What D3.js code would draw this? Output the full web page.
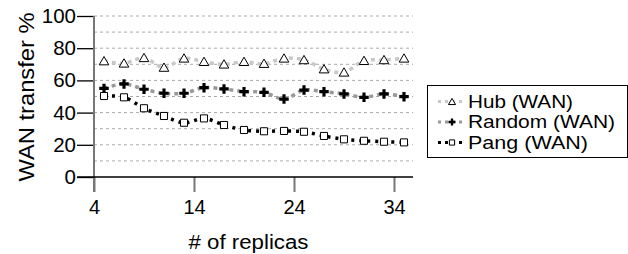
<!DOCTYPE html>
<html><head><meta charset="utf-8">
<script src="https://cdn.jsdelivr.net/npm/d3@7"></script>
<style>body{margin:0;background:#fff}svg{display:block;font-family:"Liberation Sans",Arial,sans-serif}</style>
</head><body><svg id="c" width="628" height="254"></svg>
<script>
const replicas = [5,7,9,11,13,15,17,19,21,23,25,27,29,31,33,35];
const hubWAN    = [72,70.6,74,68,73.7,71.6,70,71.6,70.4,73.7,72.7,67,65,72.2,72.7,73.7];
const randomWAN = [55,57.8,54.5,52,52,55.5,54.7,53,52.6,48.4,54,53,51.6,49.5,51.6,49.9];
const pangWAN   = [50.3,49.5,42.7,37.9,33.7,36.4,32.3,29.2,28.4,28.6,28.1,25.5,23.4,22.5,21.9,21.5];
const seriesNames = ["Hub (WAN)","Random (WAN)","Pang (WAN)"];
const xTicks = [4,14,24,34];
const yTicks = [0,20,40,60,80,100];
const gridVals = [10,20,30,40,50,60,70,80,90,100];

const FONT = "Liberation Sans, Arial, sans-serif";
const svg = d3.select("#c");
const x = d3.scaleLinear().domain([4,35.9]).range([94,413]);
const y = d3.scaleLinear().domain([0,100]).range([177,16]);

// grid
svg.append("g").selectAll("line").data(gridVals).join("line")
  .attr("x1",94).attr("x2",413).attr("y1",d=>y(d)).attr("y2",d=>y(d))
  .attr("stroke","#aaa").attr("stroke-width",1).attr("stroke-dasharray","3,3");

// y axis
const ya = svg.append("g").attr("transform","translate(94,0)")
  .call(d3.axisLeft(y).tickValues(yTicks).tickSize(17).tickPadding(1));
ya.select(".domain").remove();
ya.selectAll(".tick line").attr("stroke","#000").attr("stroke-width",1.3);
ya.selectAll("text").attr("font-size",20.5).attr("fill","#000").attr("font-family",FONT);
svg.append("line").attr("x1",94).attr("x2",94).attr("y1",y(100)).attr("y2",192).attr("stroke","#777").attr("stroke-width",2);

// x axis
const xa = svg.append("g").attr("transform","translate(0,177)")
  .call(d3.axisBottom(x).tickValues(xTicks).tickSize(15).tickPadding(8));
xa.select(".domain").remove();
xa.selectAll(".tick line").attr("stroke","#777").attr("stroke-width",2);
xa.selectAll("text").attr("font-size",20).attr("fill","#000").attr("font-family",FONT);
svg.append("line").attr("x1",77).attr("x2",413).attr("y1",177).attr("y2",177).attr("stroke","#000").attr("stroke-width",1.5);

// labels
svg.append("text").attr("transform","translate(33.5,97) rotate(-90)").attr("text-anchor","middle")
  .attr("font-size",22.5).attr("textLength",169).attr("lengthAdjust","spacingAndGlyphs").text("WAN transfer %");
svg.append("text").attr("x",248.5).attr("y",249).attr("text-anchor","middle").attr("font-size",20)
  .attr("textLength",120).attr("lengthAdjust","spacingAndGlyphs").text("# of replicas");

const series = [
  {name:seriesNames[0], vals:hubWAN, color:"#c8c8c8", dash:"4,4", marker:"tri", w:105},
  {name:seriesNames[1], vals:randomWAN, color:"#999", dash:"4,4", marker:"plus", w:147},
  {name:seriesNames[2], vals:pangWAN, color:"#000", dash:"3,5", marker:"sq", w:120}
];
const line = d3.line().x(d=>x(d[0])).y(d=>y(d[1])).curve(d3.curveCatmullRom.alpha(0.5));

function marker(g, type, cx, cy, s){
  if(type==="tri"){
    g.append("path").attr("d",d3.symbol(d3.symbolTriangle, 40*s)()).attr("transform",`translate(${cx},${cy+1})`)
      .attr("fill","#fff").attr("stroke","#000").attr("stroke-width",1);
  } else if(type==="plus"){
    g.append("path").attr("d",d3.symbol(d3.symbolCross, 50*s)()).attr("transform",`translate(${cx},${cy})`)
      .attr("fill","#000");
  } else {
    g.append("path").attr("d",d3.symbol(d3.symbolSquare, 50*s)()).attr("transform",`translate(${cx},${cy})`)
      .attr("fill","#fff").attr("stroke","#000").attr("stroke-width",1);
  }
}

series.forEach(s=>{
  const pts = replicas.map((r,i)=>[r,s.vals[i]]);
  svg.append("path").attr("d",line(pts)).attr("fill","none").attr("stroke",s.color)
    .attr("stroke-width",3.5).attr("stroke-dasharray",s.dash);
  const g = svg.append("g");
  pts.forEach(p=>marker(g, s.marker, x(p[0]), y(p[1]), 1));
});

// legend
svg.append("rect").attr("x",427.5).attr("y",85.5).attr("width",200).attr("height",72)
  .attr("fill","#fff").attr("stroke","#000").attr("stroke-width",1);
series.forEach((s,i)=>{
  const cy = 101.5 + i*20.5;
  svg.append("line").attr("x1",438).attr("x2",466).attr("y1",cy).attr("y2",cy)
    .attr("stroke",s.color).attr("stroke-width",3).attr("stroke-dasharray","3,4");
  marker(svg, s.marker, 452, cy, 0.55);
  svg.append("text").attr("x",468).attr("y",cy+6).attr("font-size",17.5)
    .attr("textLength",s.w).attr("lengthAdjust","spacingAndGlyphs").text(s.name);
});
</script></body></html>
